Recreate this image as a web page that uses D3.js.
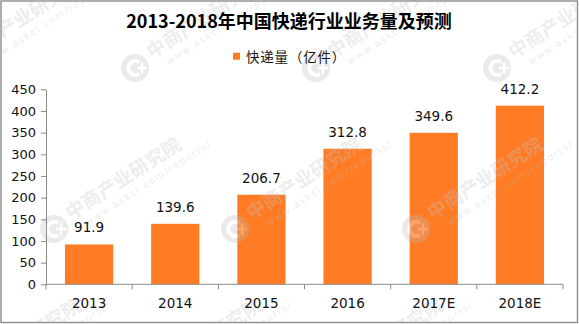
<!DOCTYPE html>
<html>
<head>
<meta charset="utf-8">
<script src="https://cdn.jsdelivr.net/npm/d3@7/dist/d3.min.js"></script>
<style>
  html, body { margin: 0; padding: 0; background: #fff; }
  svg { display: block; }
</style>
</head>
<body>
<svg id="chart" width="579" height="324"></svg>
<script>
// Express delivery volume, 2013-2018 (2017 and 2018 are forecasts)
const years = ["2013", "2014", "2015", "2016", "2017E", "2018E"];
const volumes = [91.9, 139.6, 206.7, 312.8, 349.6, 412.2];
const yTicks = [0, 50, 100, 150, 200, 250, 300, 350, 400, 450];
const titleText = "2013-2018年中国快递行业业务量及预测";
const legendText = "快递量（亿件）";
const markText = "中商产业研究院";
const markUrl = "www.askci.com/reports/";

const plotLeft = 46, plotRight = 563, plotBottom = 284.3, plotTop = 89.3;
const barColor = "#ff7b24";
const axisColor = "#8a8a8a";
const numFont = "'DejaVu Sans', Verdana, sans-serif";
const cjkFont = "'Noto Sans CJK SC', 'Noto Sans', sans-serif";

const svg = d3.select("#chart");

const x = d3.scaleBand()
  .domain(years)
  .range([plotLeft, plotRight])
  .paddingInner(0.44)
  .paddingOuter(0.22);

const y = d3.scaleLinear()
  .domain([0, 450])
  .range([plotBottom, plotTop]);

// Outer frame
svg.append("rect")
  .attr("x", 1).attr("y", 1)
  .attr("width", 576.5).attr("height", 321.5)
  .attr("fill", "#fff")
  .attr("stroke", "#8c8c8c")
  .attr("stroke-width", 1.4);

const rows = years.map((yr, i) => ({ yr, v: volumes[i] }));

// Bars
svg.append("g")
  .selectAll("rect")
  .data(rows)
  .join("rect")
  .attr("x", d => x(d.yr))
  .attr("y", d => y(d.v))
  .attr("width", x.bandwidth())
  .attr("height", d => y(0) - y(d.v))
  .attr("fill", barColor);

// Watermark tiles, clipped to the frame
svg.append("clipPath").attr("id", "frameClip")
  .append("rect").attr("x", 1).attr("y", 1).attr("width", 576.5).attr("height", 321.5);
const marks = svg.append("g")
  .attr("clip-path", "url(#frameClip)")
  .attr("pointer-events", "none");
const rowGap = 161, colGap = 181;
for (let r = 1; r < 4; r++) {
  const cy = 68 + rowGap * (r - 1);
  const x0 = (r % 2 === 1) ? 135 : 54;
  for (let k = -1; k < 4; k++) {
    const cx = x0 + colGap * k;
    if (cx < -100 || cx > 600) continue;
    const g = marks.append("g")
      .attr("transform", `translate(${cx},${cy})`)
      .attr("opacity", 0.3);
    g.append("circle").attr("r", 14).attr("fill", "#bdbdbd");
    g.append("path")
      .attr("d", "M4,-6 A7,7 0 1 0 4,6")
      .attr("fill", "none").attr("stroke", "#fff").attr("stroke-width", 4);
    g.append("path")
      .attr("d", "M2,0 H12 M7,-6 V6")
      .attr("fill", "none").attr("stroke", "#fff").attr("stroke-width", 2.5);
    const t = g.append("g").attr("transform", "rotate(-33)");
    t.append("text")
      .attr("x", 19).attr("y", 2)
      .attr("font-family", cjkFont)
      .attr("font-weight", "bold")
      .attr("font-size", 19)
      .attr("fill", "#c4c4c4")
      .text(markText);
    t.append("text")
      .attr("x", 30).attr("y", 16)
      .attr("font-family", numFont)
      .attr("font-size", 9.5)
      .attr("letter-spacing", 1.6)
      .attr("fill", "#c4c4c4")
      .text(markUrl);
  }
}

// Y axis
const yAxis = svg.append("g")
  .attr("transform", `translate(${plotLeft},0)`)
  .call(d3.axisLeft(y).tickValues(yTicks).tickSize(5).tickSizeOuter(0).tickPadding(5));
yAxis.select(".domain").attr("stroke", axisColor);
yAxis.selectAll(".tick line").attr("stroke", axisColor);
yAxis.selectAll(".tick text")
  .attr("font-family", numFont)
  .attr("font-size", 13)
  .attr("fill", "#111");

// X axis: baseline, ticks at category boundaries, centered labels
const xAxis = svg.append("g");
xAxis.append("line")
  .attr("x1", plotLeft).attr("x2", plotRight)
  .attr("y1", plotBottom).attr("y2", plotBottom)
  .attr("stroke", axisColor);
const step = x.step();
xAxis.selectAll("line.tick")
  .data(d3.range(years.length + 1))
  .join("line")
  .attr("class", "tick")
  .attr("x1", i => x.range()[0] + i * step)
  .attr("x2", i => x.range()[0] + i * step)
  .attr("y1", plotBottom).attr("y2", plotBottom + 5)
  .attr("stroke", axisColor);
xAxis.selectAll("text")
  .data(years)
  .join("text")
  .attr("x", d => x(d) + x.bandwidth() / 2)
  .attr("y", 308.3)
  .attr("text-anchor", "middle")
  .attr("font-family", numFont)
  .attr("font-size", 13.5)
  .attr("fill", "#111")
  .text(d => d);

// Value labels
svg.append("g")
  .selectAll("text")
  .data(rows)
  .join("text")
  .attr("x", d => x(d.yr) + x.bandwidth() / 2)
  .attr("y", d => y(d.v) - 12)
  .attr("text-anchor", "middle")
  .attr("font-family", numFont)
  .attr("font-size", 13.5)
  .attr("fill", "#111")
  .text(d => d3.format(".1f")(d.v));

// Title
svg.append("text")
  .attr("x", 289).attr("y", 28)
  .attr("text-anchor", "middle")
  .attr("font-family", cjkFont)
  .attr("font-weight", "bold")
  .attr("font-size", 18)
  .attr("fill", "#000")
  .text(titleText);

// Legend
const legend = svg.append("g");
legend.append("rect")
  .attr("x", 233).attr("y", 52.7)
  .attr("width", 7).attr("height", 7)
  .attr("fill", barColor);
legend.append("text")
  .attr("x", 246).attr("y", 61.5)
  .attr("font-family", cjkFont)
  .attr("font-size", 13.5)
  .attr("letter-spacing", 0.8)
  .attr("fill", "#111")
  .text(legendText);
</script>
</body>
</html>
